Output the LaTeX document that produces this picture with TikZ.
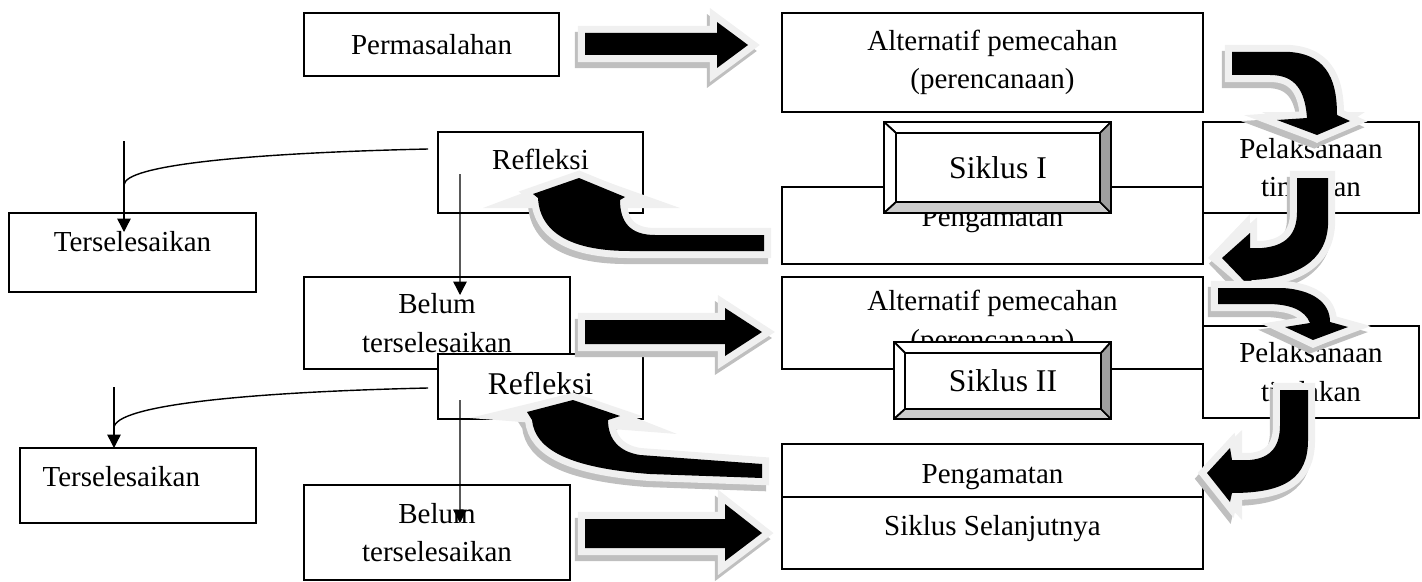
\documentclass[tikz,border=0pt]{standalone}
\usepackage{fontspec}
\setmainfont{Liberation Serif}
\usetikzlibrary{arrows.meta}
\tikzstyle{box} = [rectangle, draw, fill=white, line width=1pt, inner sep=0pt, outer sep=0pt, align=center, font=\fontsize{16.5}{22}\selectfont]
\tikzstyle{bevelout} = [rectangle, draw, fill=white, line width=1pt, inner sep=0pt, outer sep=0pt]
\tikzstyle{bevelin} = [rectangle, draw, fill=white, line width=1pt, inner sep=0pt, outer sep=0pt, font=\fontsize{18}{22}\selectfont]
\tikzstyle{bevelface} = [draw, line width=1pt, line join=round]
\tikzstyle{conn} = [line width=0.8pt]
\tikzstyle{link} = [line width=0.8pt, -{Triangle[length=7.6pt, width=7.6pt]}]
\tikzstyle{arrowshade} = [fill=gray!50, draw=gray!50, line width=8pt, line join=miter, shift={(-3,6)}]
\tikzstyle{arrowglow} = [fill=gray!12, draw=gray!12, line width=8pt, line join=miter]
\tikzstyle{arrowflare} = [fill=gray!12]
\newcommand{\fatarrow}[2][]{%
  \path [arrowshade] #2;
  \path [arrowglow] #2;
  \path [arrowflare] #1;
  \fill [black] #2;
}
\begin{document}
\begin{tikzpicture}[x=0.02cm, y=-0.02cm]
    \useasboundingbox (0,0) rectangle (1422,581);

    % cycle I
    \node [box, minimum width=5.10cm, minimum height=1.26cm] at (431.5,44.5) (perm) {Permasalahan};
    \node [box, minimum width=8.42cm, minimum height=1.98cm] at (992.5,62.5) (alt1) {Alternatif pemecahan\\(perencanaan)};
    \node [box, minimum width=4.32cm, minimum height=1.82cm] at (1311,167.5) (pel1) {Pelaksanaan\\tindakan};
    \node [box, minimum width=8.42cm, minimum height=1.54cm, text depth=9.5pt] at (992.5,225.5) (peng1) {Pengamatan};
    \node [box, minimum width=4.10cm, minimum height=1.62cm, text depth=14.5pt] at (540.5,172.5) (refl1) {Refleksi};
    \node [box, minimum width=4.94cm, minimum height=1.58cm, text depth=12.3pt] at (132.5,252.5) (ters1) {Terselesaikan};
    \node [box, minimum width=5.32cm, minimum height=1.84cm] at (437,323) (belum1) {Belum\\terselesaikan};

    % cycle II
    \node [box, minimum width=8.42cm, minimum height=1.84cm] at (992.5,323) (alt2) {Alternatif pemecahan\\(perencanaan)};
    \node [box, minimum width=4.32cm, minimum height=1.84cm] at (1311,372) (pel2) {Pelaksanaan\\tindakan};
    \node [box, minimum width=4.10cm, minimum height=1.30cm, text depth=4.1pt, font=\fontsize{18}{22}\selectfont] at (540.5,386.5) (refl2) {Refleksi};
    \node [box, minimum width=4.72cm, minimum height=1.50cm, text depth=9.9pt] at (138,485.5) (ters2) {Terselesaikan\hspace*{19pt}};
    \node [box, minimum width=5.32cm, minimum height=1.90cm] at (437,532.5) (belum2) {Belum\\terselesaikan};
    \node [box, minimum width=8.42cm, minimum height=1.06cm, text height=17.8pt] at (992.5,470.5) (peng2) {Pengamatan};
    \node [box, minimum width=8.42cm, minimum height=1.44cm, text depth=8.3pt] at (992.5,533) (next) {Siklus Selanjutnya};

    % bevelled labels
    \node [bevelout, minimum width=4.54cm, minimum height=1.82cm] at (997.5,167.5) (frame1) {};
    \node [bevelin, minimum width=4.08cm, minimum height=1.38cm] at (998,167.5) (sik1) {Siklus I};
    \node [bevelout, minimum width=4.34cm, minimum height=1.54cm] at (1002.5,380.5) (frame2) {};
    \node [bevelin, minimum width=3.92cm, minimum height=1.12cm] at (1003,381) (sik2) {Siklus II};
    \foreach \o/\i in {frame1/sik1, frame2/sik2} {
        \filldraw [bevelface, fill=white] (\o.north west) -- (\o.north east) -- (\i.north east) -- (\i.north west) -- cycle;
        \filldraw [bevelface, fill=white] (\o.north west) -- (\i.north west) -- (\i.south west) -- (\o.south west) -- cycle;
        \filldraw [bevelface, fill=gray!40] (\o.south west) -- (\i.south west) -- (\i.south east) -- (\o.south east) -- cycle;
        \filldraw [bevelface, fill=gray!75] (\o.south east) -- (\i.south east) -- (\i.north east) -- (\o.north east) -- cycle;
    }

    % thin connectors
    \coordinate (t1top) at (124,141);
    \coordinate (t2top) at (114,387);
    \draw [conn] ([shift={(-10,-23.5)}]refl1.west) .. controls (250,153) and (124,165) .. ([shift={(-8.5,-28)}]ters1.north);
    \draw [link] (t1top) -- ([shift={(-8.5,19)}]ters1.north);
    \draw [link] ([shift={(22,1.5)}]refl1.west) -- ([shift={(23,18)}]belum1.north);
    \draw [conn] ([shift={(-10,1.5)}]refl2.west) .. controls (250,392) and (114,405) .. ([shift={(-24,-20)}]ters2.north);
    \draw [link] (t2top) -- ([shift={(-24,0)}]ters2.north);
    \draw [link] ([shift={(22,13.5)}]refl2.west) -- ([shift={(23,38)}]belum2.north);

    % block arrows
    \fatarrow{(585,33) -- (717,33) -- (717,22) -- (748,45) -- (717,68) -- (717,55) -- (585,55) -- cycle}
    \fatarrow{(585,320) -- (725,320) -- (725,308) -- (762,332) -- (725,356) -- (725,344) -- (585,344) -- cycle}
    \fatarrow{(585,519) -- (725,519) -- (725,504) -- (762,533) -- (725,561) -- (725,548) -- (585,548) -- cycle}
    \fatarrow[(483,208) -- (579,172) -- (680,208) -- cycle]{(764,235) -- (655,235) .. controls (630,235) and (620,222) .. (620,200) -- (625,197) -- (579,178) -- (533,194) -- (538,198) .. controls (540,235) and (575,251) .. (630,251) -- (764,251) -- cycle}
    \fatarrow[(470,418) -- (573,393) -- (677,434) -- cycle]{(762,464) -- (640,455) .. controls (620,452) and (608,440) .. (608,420) -- (620,416) -- (573,400) -- (527,412) -- (532,420) .. controls (535,450) and (570,468) .. (650,474) -- (762,478) -- cycle}
    \fatarrow[(1262,112) -- (1317,143) -- (1365,112) -- cycle]{(1232,52) -- (1290,52) .. controls (1330,55) and (1337,85) .. (1337,115) -- (1350,121) -- (1317,135) -- (1277,120) -- (1307,118) .. controls (1305,90) and (1295,75) .. (1270,75) -- (1232,75) -- cycle}
    \fatarrow[(1250,214) -- (1208,258) -- (1248,292) -- cycle]{(1297,178) -- (1328,178) -- (1328,225) .. controls (1326,262) and (1295,278) .. (1252,280) -- (1247,284) -- (1222,258) -- (1250,233) -- (1250,248) -- (1262,248) .. controls (1285,246) and (1297,235) .. (1297,212) -- cycle}
    \fatarrow[(1270,326) -- (1313,348) -- (1365,326) -- cycle]{(1218,288) -- (1283,288) .. controls (1312,290) and (1330,302) .. (1330,322) -- (1348,327) -- (1313,340) -- (1285,327) -- (1310,323) .. controls (1305,310) and (1290,304) .. (1267,304) -- (1218,304) -- cycle}
    \fatarrow[(1242,430) -- (1198,473) -- (1242,520) -- cycle]{(1280,390) -- (1308,390) -- (1308,440) .. controls (1308,478) and (1285,493) .. (1232,493) -- (1230,502) -- (1207,473) -- (1230,448) -- (1232,460) -- (1250,460) .. controls (1272,458) and (1280,445) .. (1280,425) -- cycle}
\end{tikzpicture}
\end{document}
